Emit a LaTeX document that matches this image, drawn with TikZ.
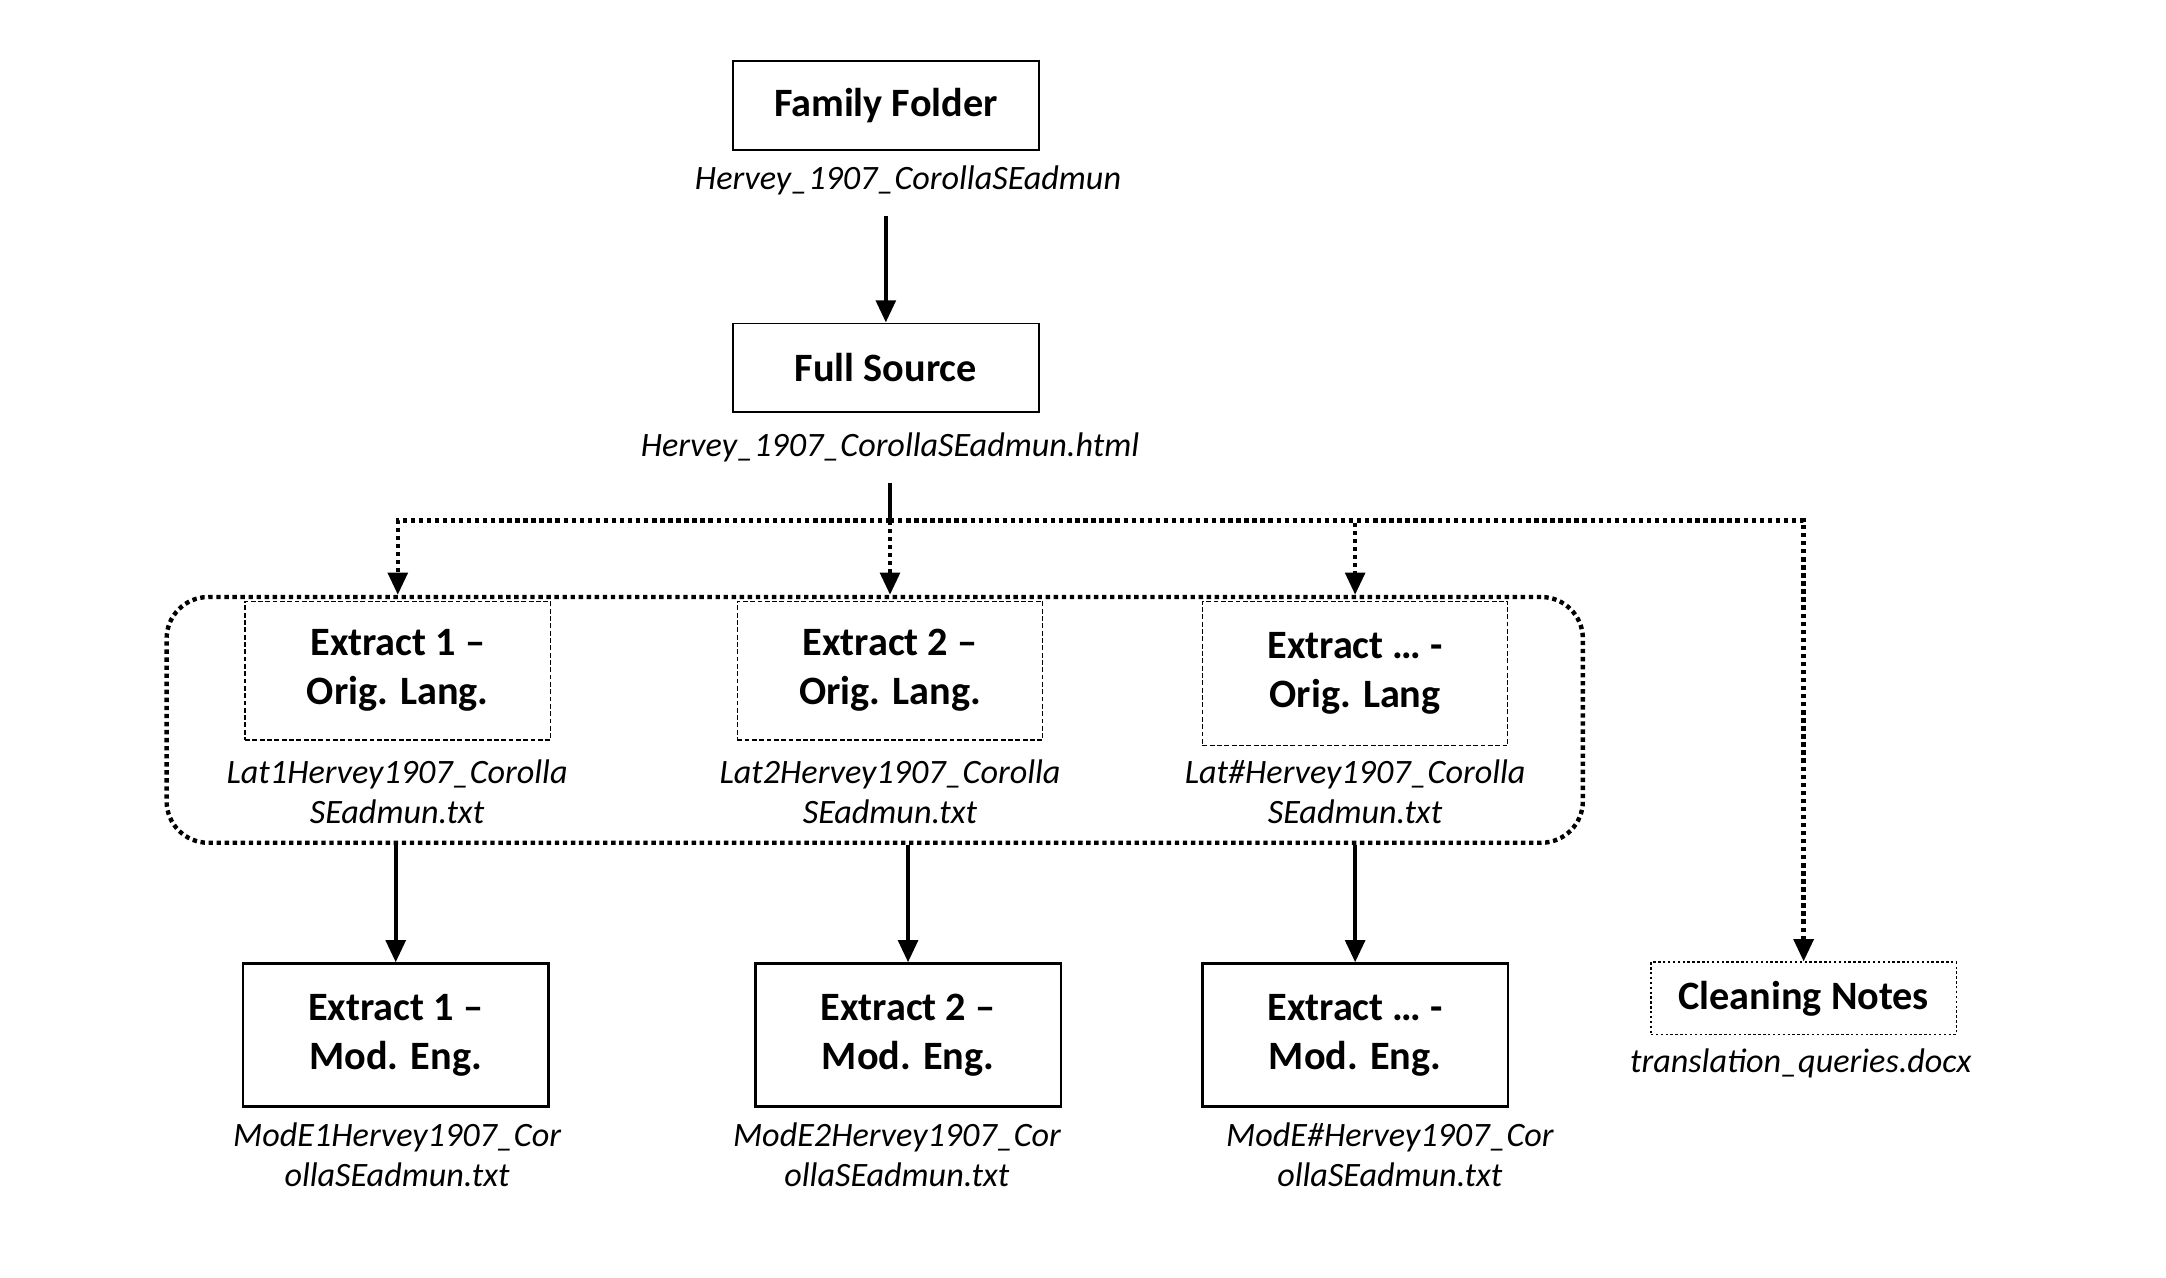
\documentclass[tikz,border=0pt]{standalone}
\usepackage{fontspec}
\setmainfont{Carlito}
\usetikzlibrary{arrows.meta}
\tikzset{>={Triangle[length=3.2mm,width=2.8mm]}}
\tikzset{
    box/.style={draw, line width=0.8pt, minimum width=4.4cm, minimum height=1.28cm, align=center, font=\bfseries\fontsize{16.5}{20}\selectfont},
    dashbox/.style={box, line width=0.5pt, dash pattern=on 2pt off 1pt, minimum height=2cm},
    modbox/.style={box, line width=1pt, minimum height=2.06cm},
    notebox/.style={box, line width=0.6pt, dash pattern=on 1pt off 1pt, minimum height=1.04cm},
    fname/.style={align=center, inner sep=0pt, font=\itshape\fontsize{14}{16.5}\selectfont},
    flow/.style={line width=1.8pt},
    dots/.style={line width=1.8pt, dash pattern=on 1.8pt off 1.5pt}
}

\begin{document}
\begin{tikzpicture}
    \useasboundingbox (0,0) rectangle (31.2,18.4);
    \node[box] (ff) at (12.76,16.88) {Family Folder};
    \node[fname] (ffl) at (13.08,15.80) {Hervey\_1907\_CorollaSEadmun};
    \node[box] (fs) at (12.76,13.10) {Full Source};
    \node[fname] (fsl) at (12.82,11.96) {Hervey\_1907\_CorollaSEadmun.html};
    \coordinate (split) at (12.82,10.90);
    \node[draw, dots, rounded corners=0.6cm, minimum width=20.4cm, minimum height=3.54cm] (grp) at (12.6,8.03) {};
    \node[dashbox] (o1) at (5.73,8.74) {Extract 1 --\\Orig. Lang.};
    \node[dashbox] (o2) at (12.82,8.74) {Extract 2 --\\Orig. Lang.};
    \node[dashbox, minimum height=2.08cm] (o3) at (19.52,8.70) {Extract … -\\Orig. Lang};
    \node[fname] (o1l) at (5.72,6.99) {Lat1Hervey1907\_Corolla\\SEadmun.txt};
    \node[fname] (o2l) at (12.82,6.99) {Lat2Hervey1907\_Corolla\\SEadmun.txt};
    \node[fname] (o3l) at (19.52,6.99) {Lat\#Hervey1907\_Corolla\\SEadmun.txt};
    \node[modbox] (m1) at (5.70,3.49) {Extract 1 --\\Mod. Eng.};
    \node[modbox] (m2) at (13.08,3.49) {Extract 2 --\\Mod. Eng.};
    \node[modbox] (m3) at (19.52,3.49) {Extract … -\\Mod. Eng.};
    \node[fname] (m1l) at (5.72,1.77) {ModE1Hervey1907\_Cor\\ollaSEadmun.txt};
    \node[fname] (m2l) at (12.92,1.77) {ModE2Hervey1907\_Cor\\ollaSEadmun.txt};
    \node[fname] (m3l) at (20.02,1.77) {ModE\#Hervey1907\_Cor\\ollaSEadmun.txt};
    \node[notebox] (cn) at (25.98,4.02) {Cleaning Notes};
    \node[fname] (cnl) at (25.94,3.08) {translation\_queries.docx};
    \draw[flow,->] ([yshift=-3mm]ffl.south -| ff.south) -- (fs.north);
    \draw[flow] ([yshift=-3mm]fsl.south) -- (split);
    \draw[dots,->] (split) -| (grp.north -| o1.north);
    \draw[dots,->] (split) -- (grp.north -| o2.north);
    \draw[dots,->] (split) -| (grp.north -| o3.north);
    \draw[dots,->] (split) -| (cn.north);
    \draw[flow,->] (grp.south -| m1.north) -- (m1.north);
    \draw[flow,->] (grp.south -| m2.north) -- (m2.north);
    \draw[flow,->] (grp.south -| m3.north) -- (m3.north);
\end{tikzpicture}
\end{document}
